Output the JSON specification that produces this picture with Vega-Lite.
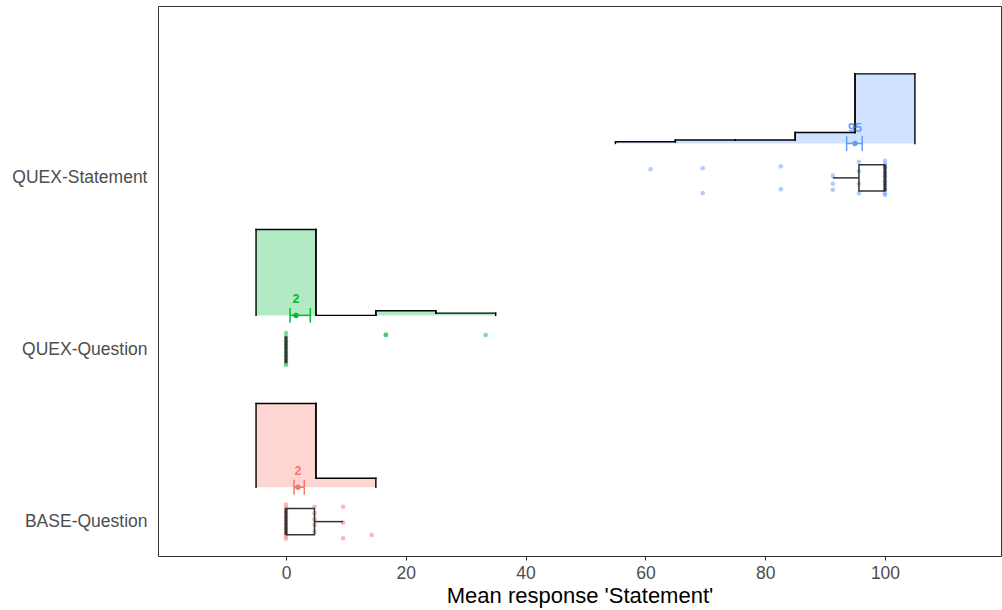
{
  "$schema": "https://vega.github.io/schema/vega-lite/v6.json",
  "width": 843,
  "height": 550,
  "autosize": {"type": "none"},
  "padding": {"left": 158, "top": 6, "right": 1, "bottom": 54},
  "background": "white",
  "config": {
    "view": {"stroke": "#333333", "strokeWidth": 1},
    "font": "Liberation Sans",
    "axis": {"grid": false, "domain": false, "labelFont": "Liberation Sans", "titleFont": "Liberation Sans"}
  },
  "datasets": {
    "hist": [
      {"group": "BASE-Question", "x0": -5, "x1": 5, "h": 0.487},
      {"group": "BASE-Question", "x0": 5, "x1": 15, "h": 0.052},
      {"group": "QUEX-Question", "x0": -5, "x1": 5, "h": 0.5},
      {"group": "QUEX-Question", "x0": 5, "x1": 15, "h": 0},
      {"group": "QUEX-Question", "x0": 15, "x1": 25, "h": 0.027},
      {"group": "QUEX-Question", "x0": 25, "x1": 35, "h": 0.013},
      {"group": "QUEX-Statement", "x0": 55, "x1": 65, "h": 0.01},
      {"group": "QUEX-Statement", "x0": 65, "x1": 75, "h": 0.02},
      {"group": "QUEX-Statement", "x0": 75, "x1": 85, "h": 0.02},
      {"group": "QUEX-Statement", "x0": 85, "x1": 95, "h": 0.064},
      {"group": "QUEX-Statement", "x0": 95, "x1": 105, "h": 0.405}
    ],
    "pts": [
      {"group": "BASE-Question", "value": 0, "jit": 0.1},
      {"group": "BASE-Question", "value": 0, "jit": 0.08},
      {"group": "BASE-Question", "value": 0, "jit": 0.055},
      {"group": "BASE-Question", "value": 0, "jit": 0.03},
      {"group": "BASE-Question", "value": 0, "jit": 0.01},
      {"group": "BASE-Question", "value": 0, "jit": -0.015},
      {"group": "BASE-Question", "value": 0, "jit": -0.04},
      {"group": "BASE-Question", "value": 0, "jit": -0.06},
      {"group": "BASE-Question", "value": 0, "jit": -0.085},
      {"group": "BASE-Question", "value": 0, "jit": -0.1},
      {"group": "BASE-Question", "value": 4.76, "jit": 0.087},
      {"group": "BASE-Question", "value": 4.76, "jit": 0.048},
      {"group": "BASE-Question", "value": 4.76, "jit": 0.013},
      {"group": "BASE-Question", "value": 4.76, "jit": -0.02},
      {"group": "BASE-Question", "value": 4.76, "jit": -0.059},
      {"group": "BASE-Question", "value": 9.52, "jit": 0.087},
      {"group": "BASE-Question", "value": 9.52, "jit": -0.006},
      {"group": "BASE-Question", "value": 9.52, "jit": -0.097},
      {"group": "BASE-Question", "value": 14.29, "jit": -0.078},
      {"group": "QUEX-Question", "value": 0, "jit": 0.097},
      {"group": "QUEX-Question", "value": 0, "jit": 0.075},
      {"group": "QUEX-Question", "value": 0, "jit": 0.05},
      {"group": "QUEX-Question", "value": 0, "jit": 0.03},
      {"group": "QUEX-Question", "value": 0, "jit": 0.01},
      {"group": "QUEX-Question", "value": 0, "jit": -0.015},
      {"group": "QUEX-Question", "value": 0, "jit": -0.035},
      {"group": "QUEX-Question", "value": 0, "jit": -0.055},
      {"group": "QUEX-Question", "value": 0, "jit": -0.075},
      {"group": "QUEX-Question", "value": 0, "jit": -0.089},
      {"group": "QUEX-Question", "value": 16.67, "jit": 0.088},
      {"group": "QUEX-Question", "value": 16.67, "jit": 0.085},
      {"group": "QUEX-Question", "value": 33.33, "jit": 0.086},
      {"group": "QUEX-Statement", "value": 60.87, "jit": 0.05},
      {"group": "QUEX-Statement", "value": 69.57, "jit": 0.056},
      {"group": "QUEX-Statement", "value": 69.57, "jit": -0.088},
      {"group": "QUEX-Statement", "value": 82.61, "jit": 0.067},
      {"group": "QUEX-Statement", "value": 82.61, "jit": -0.066},
      {"group": "QUEX-Statement", "value": 91.3, "jit": 0.013},
      {"group": "QUEX-Statement", "value": 91.3, "jit": -0.034},
      {"group": "QUEX-Statement", "value": 91.3, "jit": -0.069},
      {"group": "QUEX-Statement", "value": 95.65, "jit": 0.094},
      {"group": "QUEX-Statement", "value": 95.65, "jit": 0.04},
      {"group": "QUEX-Statement", "value": 95.65, "jit": -0.034},
      {"group": "QUEX-Statement", "value": 95.65, "jit": -0.09},
      {"group": "QUEX-Statement", "value": 100, "jit": 0.1},
      {"group": "QUEX-Statement", "value": 100, "jit": 0.08},
      {"group": "QUEX-Statement", "value": 100, "jit": 0.06},
      {"group": "QUEX-Statement", "value": 100, "jit": 0.03},
      {"group": "QUEX-Statement", "value": 100, "jit": 0.01},
      {"group": "QUEX-Statement", "value": 100, "jit": -0.02},
      {"group": "QUEX-Statement", "value": 100, "jit": -0.04},
      {"group": "QUEX-Statement", "value": 100, "jit": -0.07},
      {"group": "QUEX-Statement", "value": 100, "jit": -0.09},
      {"group": "QUEX-Statement", "value": 100, "jit": -0.1}
    ],
    "box": [
      {"group": "BASE-Question", "lo": 0, "q1": 0, "med": 0, "q3": 4.76, "hi": 9.52},
      {"group": "QUEX-Question", "lo": 0, "q1": 0, "med": 0, "q3": 0, "hi": 0},
      {"group": "QUEX-Statement", "lo": 91.3, "q1": 95.65, "med": 100, "q3": 100, "hi": 100}
    ],
    "means": [
      {"group": "BASE-Question", "mean": 2.0, "lo": 1.34, "hi": 3.05},
      {"group": "QUEX-Question", "mean": 1.67, "lo": 0.67, "hi": 4.06},
      {"group": "QUEX-Statement", "mean": 95.0, "lo": 93.6, "hi": 96.2}
    ]
  },
  "layer": [
    {
      "data": {"name": "hist"},
      "transform": [
        {"calculate": "indexof(['BASE-Question','QUEX-Question','QUEX-Statement'], datum.group) + 1", "as": "yi"},
        {"calculate": "datum.yi + 0.2", "as": "yb"},
        {"calculate": "datum.yi + 0.2 + datum.h", "as": "yt"}
      ],
      "mark": {"type": "rect", "opacity": 0.3},
      "encoding": {
        "x": {"field": "x0", "type": "quantitative", "scale": {"domain": [-21.37, 119.37], "nice": false, "zero": false},
              "axis": {"values": [0, 20, 40, 60, 80, 100], "title": "Mean response 'Statement'", "titleFontSize": 22, "titleColor": "#000000", "titleFontWeight": "normal", "titlePadding": 4, "labelFontSize": 17.5, "labelColor": "#4D4D4D", "labelPadding": 4, "ticks": true, "tickSize": 4, "tickColor": "#333333", "labelFlush": false}},
        "x2": {"field": "x1"},
        "y": {"field": "yt", "type": "quantitative", "scale": {"domain": [0.8, 4.0], "nice": false, "zero": false},
              "axis": {"values": [1, 2, 3], "title": null, "ticks": false, "labelFontSize": 17.5, "labelColor": "#4D4D4D", "labelPadding": 11,
                       "labelExpr": "datum.value == 1 ? 'BASE-Question' : datum.value == 2 ? 'QUEX-Question' : 'QUEX-Statement'"}},
        "y2": {"field": "yb"},
        "color": {"field": "group", "type": "nominal", "scale": {"domain": ["BASE-Question", "QUEX-Question", "QUEX-Statement"], "range": ["#F8766D", "#00BA38", "#619CFF"]}, "legend": null}
      }
    },
    {
      "data": {"name": "hist"},
      "transform": [
        {"window": [{"op": "lag", "field": "h", "as": "hp0"}, {"op": "lead", "field": "h", "as": "hn0"}], "groupby": ["group"], "sort": [{"field": "x0", "order": "ascending"}]},
        {"calculate": "indexof(['BASE-Question','QUEX-Question','QUEX-Statement'], datum.group) + 1", "as": "yi"},
        {"calculate": "datum.yi + 0.2 + datum.h", "as": "yt"},
        {"calculate": "datum.yi + 0.2 + (datum.hp0 == null ? 0 : datum.hp0)", "as": "yp"},
        {"calculate": "datum.yi + 0.2 + (datum.hn0 == null ? 0 : datum.hn0)", "as": "yn"}
      ],
      "layer": [
        {
          "mark": {"type": "rule", "color": "#000000", "strokeWidth": 1.4, "strokeCap": "square"},
          "encoding": {
            "x": {"field": "x0", "type": "quantitative"},
            "x2": {"field": "x1"},
            "y": {"field": "yt", "type": "quantitative"}
          }
        },
        {
          "mark": {"type": "rule", "color": "#000000", "strokeWidth": 1.4, "strokeCap": "square"},
          "encoding": {
            "x": {"field": "x0", "type": "quantitative"},
            "y": {"field": "yp", "type": "quantitative"},
            "y2": {"field": "yt"}
          }
        },
        {
          "mark": {"type": "rule", "color": "#000000", "strokeWidth": 1.4, "strokeCap": "square"},
          "encoding": {
            "x": {"field": "x1", "type": "quantitative"},
            "y": {"field": "yt", "type": "quantitative"},
            "y2": {"field": "yn"}
          }
        }
      ]
    },
    {
      "data": {"name": "pts"},
      "transform": [
        {"calculate": "indexof(['BASE-Question','QUEX-Question','QUEX-Statement'], datum.group) + 1 + datum.jit", "as": "yj"}
      ],
      "mark": {"type": "circle", "size": 21, "opacity": 0.5},
      "encoding": {
        "x": {"field": "value", "type": "quantitative"},
        "y": {"field": "yj", "type": "quantitative"},
        "color": {"field": "group", "type": "nominal", "legend": null}
      }
    },
    {
      "data": {"name": "box"},
      "transform": [
        {"calculate": "indexof(['BASE-Question','QUEX-Question','QUEX-Statement'], datum.group) + 1", "as": "yi"},
        {"calculate": "datum.yi - 0.077", "as": "ylo"},
        {"calculate": "datum.yi + 0.077", "as": "yhi"}
      ],
      "layer": [
        {
          "mark": {"type": "rule", "color": "#333333", "strokeWidth": 1.5},
          "encoding": {
            "x": {"field": "lo", "type": "quantitative"},
            "x2": {"field": "q1"},
            "y": {"field": "yi", "type": "quantitative"}
          }
        },
        {
          "mark": {"type": "rule", "color": "#333333", "strokeWidth": 1.5},
          "encoding": {
            "x": {"field": "q3", "type": "quantitative"},
            "x2": {"field": "hi"},
            "y": {"field": "yi", "type": "quantitative"}
          }
        },
        {
          "mark": {"type": "rect", "fill": null, "fillOpacity": 0, "stroke": "#333333", "strokeWidth": 1.5},
          "encoding": {
            "x": {"field": "q1", "type": "quantitative"},
            "x2": {"field": "q3"},
            "y": {"field": "ylo", "type": "quantitative"},
            "y2": {"field": "yhi"}
          }
        },
        {
          "mark": {"type": "rule", "color": "#333333", "strokeWidth": 3},
          "encoding": {
            "x": {"field": "med", "type": "quantitative"},
            "y": {"field": "ylo", "type": "quantitative"},
            "y2": {"field": "yhi"}
          }
        }
      ]
    },
    {
      "data": {"name": "means"},
      "transform": [
        {"calculate": "indexof(['BASE-Question','QUEX-Question','QUEX-Statement'], datum.group) + 1.2", "as": "ym"},
        {"calculate": "datum.ym - 0.043", "as": "yc0"},
        {"calculate": "datum.ym + 0.043", "as": "yc1"}
      ],
      "layer": [
        {
          "mark": {"type": "rule", "strokeWidth": 1.5},
          "encoding": {
            "x": {"field": "lo", "type": "quantitative"},
            "x2": {"field": "hi"},
            "y": {"field": "ym", "type": "quantitative"},
            "color": {"field": "group", "type": "nominal", "legend": null}
          }
        },
        {
          "mark": {"type": "rule", "strokeWidth": 1.5},
          "encoding": {
            "x": {"field": "lo", "type": "quantitative"},
            "y": {"field": "yc0", "type": "quantitative"},
            "y2": {"field": "yc1"},
            "color": {"field": "group", "type": "nominal", "legend": null}
          }
        },
        {
          "mark": {"type": "rule", "strokeWidth": 1.5},
          "encoding": {
            "x": {"field": "hi", "type": "quantitative"},
            "y": {"field": "yc0", "type": "quantitative"},
            "y2": {"field": "yc1"},
            "color": {"field": "group", "type": "nominal", "legend": null}
          }
        },
        {
          "mark": {"type": "circle", "size": 28, "opacity": 1},
          "encoding": {
            "x": {"field": "mean", "type": "quantitative"},
            "y": {"field": "ym", "type": "quantitative"},
            "color": {"field": "group", "type": "nominal", "legend": null}
          }
        },
        {
          "mark": {"type": "text", "fontWeight": "bold", "fontSize": 12.5, "dy": -16, "baseline": "middle", "align": "center"},
          "encoding": {
            "x": {"field": "mean", "type": "quantitative"},
            "y": {"field": "ym", "type": "quantitative"},
            "text": {"field": "mean", "type": "quantitative", "format": ".0f"},
            "color": {"field": "group", "type": "nominal", "legend": null}
          }
        }
      ]
    }
  ]
}
